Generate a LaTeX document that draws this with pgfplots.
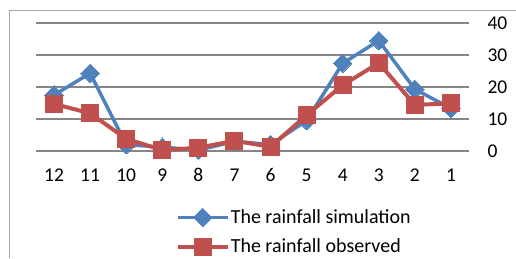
\documentclass[border=0pt]{standalone}
\usepackage{pgfplots}
\pgfplotsset{compat=1.18}
\usepackage{fontspec}
\setmainfont{Carlito}
\definecolor{cblue}{HTML}{4F81BD}
\definecolor{cred}{HTML}{C0504D}
\definecolor{cgrid}{HTML}{868686}
\definecolor{cframe}{HTML}{A6A6A6}
\begin{document}
\begin{tikzpicture}[x=1pt,y=1pt]
\useasboundingbox (0,0) rectangle (516,258);
\draw[cframe,line width=1pt] (9,0) -- (9,248) -- (516,248);
\begin{axis}[
  at={(36pt,107pt)}, anchor=south west,
  scale only axis, width=433pt, height=128pt,
  xmin=-0.5, xmax=11.5, ymin=0, ymax=40,
  axis line style={draw=none},
  xtick={0,...,11},
  xticklabels={12,11,10,9,8,7,6,5,4,3,2,1},
  ytick={0,10,20,30,40},
  yticklabel pos=right,
  tick style={draw=none},
  ymajorgrids, grid style={cgrid,line width=1.2pt},
  font=\fontsize{19.5}{22}\selectfont,
  /pgf/number format/assume math mode=true,
  yticklabel style={anchor=west, xshift=15pt},
  xticklabel style={yshift=-14pt},
  clip=false,
  legend cell align=left,
  legend style={draw=none, fill=none, at={(axis description cs:0.32,-0.425)}, anchor=north west, row sep=10pt, inner xsep=1pt, font=\fontsize{20}{22}\selectfont,
    nodes={inner xsep=1pt}},
  legend image code/.code={\draw[mark repeat=2,mark phase=2,#1] plot coordinates {(0pt,0pt)(25pt,0pt)(50pt,0pt)};},
]
\addplot[cblue, line width=3.5pt, mark=square*, mark size=6.5pt, mark options={rotate=45, line width=0pt}] coordinates {
(0,17.5) (1,24.3) (2,2.0) (3,1.2) (4,0.3) (5,3.0) (6,2.0) (7,9.5) (8,27.4) (9,34.5) (10,19.3) (11,13.3)};
\addlegendentry{The rainfall simulation}
\addplot[cred, line width=4pt, mark=square*, mark size=8.5pt, mark options={line width=0pt}] coordinates {
(0,14.7) (1,11.8) (2,3.8) (3,0.3) (4,1.0) (5,3.2) (6,1.3) (7,11.2) (8,20.6) (9,27.5) (10,14.4) (11,14.9)};
\addlegendentry{The rainfall observed}
\end{axis}
\end{tikzpicture}
\end{document}
